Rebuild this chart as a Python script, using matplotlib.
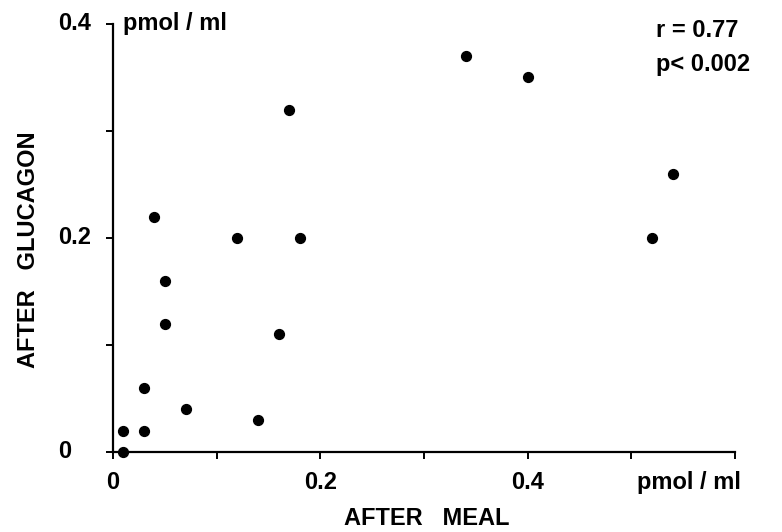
import numpy as np
import matplotlib
matplotlib.use('Agg')
import matplotlib.pyplot as plt
import matplotlib.transforms as mtransforms

# --- data (pmol/ml) ---
after_meal = [0.01, 0.01, 0.03, 0.03, 0.07, 0.14, 0.04, 0.05, 0.05,
              0.12, 0.18, 0.16, 0.17, 0.34, 0.40, 0.54, 0.52]
after_glucagon = [0.02, 0.0, 0.06, 0.02, 0.04, 0.03, 0.22, 0.16, 0.12,
                  0.20, 0.20, 0.11, 0.32, 0.37, 0.35, 0.26, 0.20]

x_ticks = [0, 0.2, 0.4, 0.6]
x_ticklabels = ['0', '0.2', '0.4', 'pmol / ml']
y_ticks = [0, 0.2, 0.4]
y_ticklabels = ['0', '0.2', '0.4']

plt.rcParams['font.family'] = ['Liberation Sans', 'DejaVu Sans']
FS = 17

fig = plt.figure(figsize=(7.82, 5.32), dpi=100)
ax = fig.add_axes([0.1445, 0.1504, 0.7955, 0.8046])

ax.scatter(after_meal, after_glucagon, s=50, c='black', clip_on=False, zorder=3)

ax.set_xlim(0, 0.6)
ax.set_ylim(0, 0.4)
for side in ('top', 'right'):
    ax.spines[side].set_visible(False)
for side in ('left', 'bottom'):
    ax.spines[side].set_linewidth(1.6)

# ticks every 0.1, labels only on some
ax.set_xticks(np.arange(0, 0.61, 0.1))
ax.set_xticklabels([])
ax.set_yticks(np.arange(0, 0.41, 0.1))
ax.set_yticklabels([])
ax.tick_params(axis='both', direction='out', length=5, width=1.4)

# x tick labels
xtr = mtransforms.blended_transform_factory(ax.transData, ax.transAxes)
for v, lab in zip(x_ticks, x_ticklabels):
    ha = 'right' if v == 0.6 else 'center'
    xx = v + 0.006 if v == 0.6 else v
    ax.text(xx, -0.072, lab, transform=xtr, ha=ha, va='center',
            fontsize=FS, fontweight='bold')

# y tick labels (left aligned in the original)
ytr = mtransforms.blended_transform_factory(ax.transAxes, ax.transData)
for v, lab in zip(y_ticks, y_ticklabels):
    ax.text(-0.089, v, lab, transform=ytr, ha='left', va='center',
            fontsize=FS, fontweight='bold')

ax.text(0.016, 0.4, 'pmol / ml', transform=ytr, ha='left', va='center',
        fontsize=FS, fontweight='bold')

ax.text(0.873, 0.984, 'r = 0.77', transform=ax.transAxes, ha='left', va='center',
        fontsize=FS, fontweight='bold')
ax.text(0.873, 0.905, 'p< 0.002', transform=ax.transAxes, ha='left', va='center',
        fontsize=FS, fontweight='bold')

fig.text(0.546, 0.025, 'AFTER   MEAL', ha='center', va='center',
         fontsize=FS, fontweight='bold')
fig.text(0.037, 0.53, 'AFTER   GLUCAGON', ha='center', va='center',
         rotation=90, fontsize=FS, fontweight='bold')

plt.savefig('out.png', dpi=100)
